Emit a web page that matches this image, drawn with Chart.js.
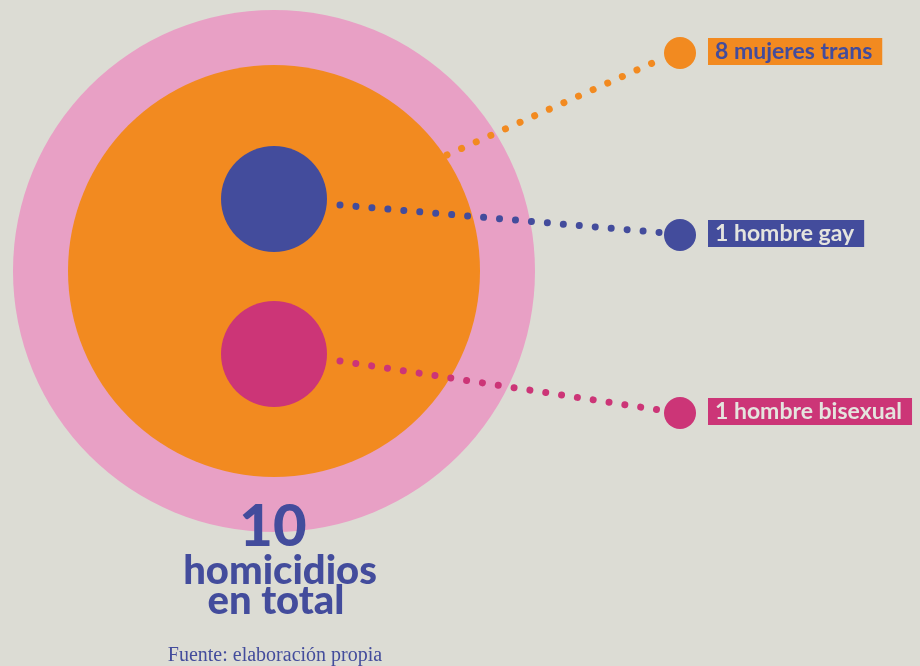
<!DOCTYPE html>
<html lang="es">
<head>
    <meta charset="UTF-8">
    <title>Homicidios</title>
    <script src="https://cdn.jsdelivr.net/npm/chart.js"></script>
    <style>
        html, body { margin: 0; padding: 0; background: #dcdcd4; }
        #wrap { width: 920px; height: 666px; position: relative; }
    </style>
</head>
<body>
<div id="wrap"><canvas id="chart" width="920" height="666"></canvas></div>
<script>
    // data
    const categories = ['8 mujeres trans', '1 hombre gay', '1 hombre bisexual'];
    const values = [8, 1, 1];
    const total = 10;
    const colors = ['#f28a20', '#434c9c', '#cc3577'];
    const textColors = ['#434c9c', '#e4e4de', '#e4e4de'];

    // layout (pixel space, scales map 1:1)
    const ringCenter = { x: 274, y: 271 };
    const outerR = 261, innerR = 206, smallR = 53, dotR = 16;
    const innerPos = [null, { x: 274, y: 199 }, { x: 274, y: 354 }];
    const endPos = [{ x: 680, y: 53 }, { x: 680, y: 235 }, { x: 680, y: 413 }];
    const startPos = [{ x: 447, y: 155 }, { x: 340, y: 205 }, { x: 340, y: 361 }];

    const datasets = [];
    datasets.push({ type: 'bubble', order: 10, clip: false, data: [{ x: ringCenter.x, y: ringCenter.y, r: outerR }], backgroundColor: '#e8a0c5', borderWidth: 0 });
    datasets.push({ type: 'bubble', order: 9, clip: false, data: [{ x: ringCenter.x, y: ringCenter.y, r: innerR }], backgroundColor: colors[0], borderWidth: 0 });
    categories.forEach((c, i) => {
        datasets.push({
            type: 'line', order: 5, clip: false,
            data: [{ x: startPos[i].x, y: startPos[i].y }, { x: endPos[i].x - 14, y: endPos[i].y + (startPos[i].y < endPos[i].y ? -2 : 4) }],
            borderColor: colors[i], borderWidth: 7, borderDash: [0.01, 16], borderCapStyle: 'round',
            pointRadius: 0, fill: false
        });
        const pts = [{ x: endPos[i].x, y: endPos[i].y, r: dotR }];
        if (innerPos[i]) pts.push({ x: innerPos[i].x, y: innerPos[i].y, r: smallR });
        datasets.push({ type: 'bubble', order: 1, clip: false, data: pts, backgroundColor: colors[i], borderWidth: 0 });
    });

    const labelPlugin = {
        id: 'labels',
        afterDatasetsDraw(chart) {
            const ctx = chart.ctx;
            ctx.save();
            ctx.textBaseline = 'middle';
            ctx.font = 'bold 23px Lato';
            categories.forEach((c, i) => {
                const w = ctx.measureText(c).width;
                const y = endPos[i].y;
                ctx.fillStyle = colors[i];
                ctx.fillRect(708, y - 15, Math.min(w + 17, 920 - 708), 27);
                ctx.fillStyle = textColors[i];
                ctx.fillText(c, 715, y - 1);
            });
            ctx.textAlign = 'center';
            ctx.textBaseline = 'alphabetic';
            ctx.fillStyle = '#434c9c';
            ctx.font = '900 58px Lato';
            ctx.fillText(String(total), 273, 546);
            ctx.font = '900 40px Lato';
            ctx.fillText('homicidios', 280, 584);
            ctx.fillText('en total', 276, 614);
            ctx.font = '20px "Liberation Serif"';
            ctx.fillText('Fuente: elaboración propia', 275, 661);
            ctx.restore();
        }
    };

    new Chart(document.getElementById('chart'), {
        type: 'bubble',
        data: { datasets },
        options: {
            responsive: false,
            animation: false,
            events: [],
            layout: { padding: 0, autoPadding: false },
            plugins: { legend: { display: false }, tooltip: { enabled: false } },
            scales: {
                x: { type: 'linear', min: 0, max: 920, display: false },
                y: { type: 'linear', min: 0, max: 666, reverse: true, display: false }
            }
        },
        plugins: [labelPlugin]
    });
</script>
</body>
</html>
